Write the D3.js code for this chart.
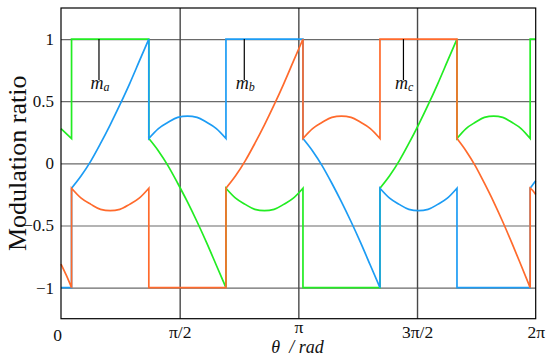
<!DOCTYPE html>
<html>
<head>
<meta charset="utf-8">
<script src="https://cdn.jsdelivr.net/npm/d3@7/dist/d3.min.js"></script>
<style>
  html, body { margin: 0; padding: 0; background: #fff; }
  svg { display: block; }
  text { font-family: "Liberation Serif", serif; fill: #111; }
</style>
</head>
<body>
<svg id="chart" width="550" height="359"></svg>
<script>
// ---- data (theta in degrees, 0..360 = 0..2π) ----
const theta = [0, 4.0, 8.0,
  8.0, 15.3, 22.7, 30.0, 37.3, 44.6, 52.0, 59.3, 66.6,
  66.6, 73.9, 81.2, 88.5, 95.9, 103.2, 110.5, 117.8, 125.1,
  125.1, 132.4, 139.7, 147.0, 154.3, 161.6, 168.9, 176.2, 183.5,
  183.5, 190.8, 198.1, 205.4, 212.7, 220.0, 227.3, 234.6, 241.9,
  241.9, 249.2, 256.5, 263.8, 271.1, 278.4, 285.7, 293.0, 300.3,
  300.3, 307.2, 314.2, 321.1, 328.1, 335.0, 341.9, 348.9, 355.8,
  355.8, 357.9, 360];

const mA = [0.28, 0.24, 0.2,
  1, 1, 1, 1, 1, 1, 1, 1, 1,
  0.2, 0.1, -0.02, -0.16, -0.31, -0.47, -0.64, -0.82, -1,
  -0.2, -0.28, -0.33, -0.37, -0.38, -0.37, -0.33, -0.28, -0.2,
  -1, -1, -1, -1, -1, -1, -1, -1, -1,
  -0.2, -0.1, 0.02, 0.16, 0.31, 0.47, 0.64, 0.82, 1,
  0.2, 0.28, 0.33, 0.37, 0.38, 0.37, 0.33, 0.28, 0.2,
  1, 1, 1];

const mB = [-1, -1, -1,
  -0.2, -0.1, 0.02, 0.16, 0.31, 0.47, 0.64, 0.82, 1,
  0.2, 0.28, 0.33, 0.37, 0.38, 0.37, 0.33, 0.28, 0.2,
  1, 1, 1, 1, 1, 1, 1, 1, 1,
  0.2, 0.1, -0.02, -0.16, -0.31, -0.47, -0.64, -0.82, -1,
  -0.2, -0.28, -0.33, -0.37, -0.38, -0.37, -0.33, -0.28, -0.2,
  -1, -1, -1, -1, -1, -1, -1, -1, -1,
  -0.2, -0.17, -0.14];

const mC = [-0.81, -0.9, -1,
  -0.2, -0.28, -0.33, -0.37, -0.38, -0.37, -0.33, -0.28, -0.2,
  -1, -1, -1, -1, -1, -1, -1, -1, -1,
  -0.2, -0.1, 0.02, 0.16, 0.31, 0.47, 0.64, 0.82, 1,
  0.2, 0.28, 0.33, 0.37, 0.38, 0.37, 0.33, 0.28, 0.2,
  1, 1, 1, 1, 1, 1, 1, 1, 1,
  0.2, 0.1, -0.02, -0.16, -0.31, -0.47, -0.64, -0.82, -1,
  -0.2, -0.22, -0.25];

const xTicks = [0, 90, 180, 270, 360];
const xTickLabels = ["0", "π/2", "π", "3π/2", "2π"];
const yTicks = [-1, -0.5, 0, 0.5, 1];
const yTickLabels = ["−1", "−0.5", "0", "0.5", "1"];

const annTheta = [28.8, 139.0, 259.7];
const annValue = [0.67, 0.67, 0.67];
const annSub = ["a", "b", "c"];

// ---- layout ----
const svg = d3.select("#chart");
const margin = {left: 61, top: 8, right: 14.3, bottom: 40.3};
const W = 550, H = 359;
const w = W - margin.left - margin.right;
const h = H - margin.top - margin.bottom;
const FONT = "'Liberation Serif', serif";

const x = d3.scaleLinear().domain([0, 360]).range([margin.left, margin.left + w]);
const y = d3.scaleLinear().domain([-1.25, 1.25]).range([margin.top + h, margin.top]);

// horizontal grid
svg.append("g")
  .attr("transform", `translate(${margin.left},0)`)
  .call(d3.axisLeft(y).tickValues(yTicks).tickSize(-w).tickFormat(""))
  .call(g => g.select(".domain").remove())
  .call(g => g.selectAll("line").attr("stroke", "#6a6a6a").attr("stroke-width", 1.2));

// vertical grid
svg.append("g")
  .attr("transform", `translate(0,${margin.top + h})`)
  .call(d3.axisBottom(x).tickValues([90, 180, 270]).tickSize(-h).tickFormat(""))
  .call(g => g.select(".domain").remove())
  .call(g => g.selectAll("line").attr("stroke", "#484848").attr("stroke-width", 1.4));

// series
const colors = {a: "#22ec22", b: "#1c9cf4", c: "#ff6a2c"};
const line = d3.line().x(d => x(d.t)).y(d => y(d.v)).curve(d3.curveMonotoneX);

function buildPath(vals) {
  const pts = theta.map((t, i) => ({t, v: vals[i]}));
  const pieces = [];
  let cur = [pts[0]];
  for (let i = 1; i < pts.length; i++) {
    if (pts[i].t === pts[i - 1].t) { pieces.push(cur); cur = [pts[i]]; }
    else cur.push(pts[i]);
  }
  pieces.push(cur);
  return pieces.map((p, i) => {
    const d = line(p);
    return i === 0 ? d : "L" + d.slice(1);
  }).join("");
}

const seriesOrder = [["a", mA], ["b", mB], ["c", mC]];
svg.append("g").selectAll("path")
  .data(seriesOrder)
  .join("path")
  .attr("d", d => buildPath(d[1]))
  .attr("fill", "none")
  .attr("stroke", d => colors[d[0]])
  .attr("stroke-width", 1.7)
  .attr("stroke-linejoin", "miter");

// frame
svg.append("rect")
  .attr("x", margin.left).attr("y", margin.top)
  .attr("width", w).attr("height", h)
  .attr("fill", "none").attr("stroke", "#000").attr("stroke-width", 1.2);

// y tick labels
svg.append("g")
  .attr("transform", `translate(${margin.left},0)`)
  .call(d3.axisLeft(y).tickValues(yTicks).tickSize(0).tickPadding(7)
        .tickFormat((d, i) => yTickLabels[i]))
  .call(g => g.select(".domain").remove())
  .call(g => g.selectAll("text")
        .style("font-family", FONT)
        .style("font-size", "17px").attr("fill", "#111"));

// x tick labels
const xLabelBase = [341.5, 338, 333, 338, 338];
const xLabelDx = [-4, 0, 0, 0, 0];
svg.append("g")
  .attr("transform", `translate(0,${margin.top + h})`)
  .call(d3.axisBottom(x).tickValues(xTicks).tickSize(0)
        .tickFormat((d, i) => xTickLabels[i]))
  .call(g => g.select(".domain").remove())
  .call(g => g.selectAll("text")
        .style("font-family", FONT)
        .style("font-size", "17.5px").attr("fill", "#111")
        .attr("dy", null)
        .attr("y", (d, i) => xLabelBase[i] - (margin.top + h))
        .attr("dx", (d, i) => xLabelDx[i]));

// axis titles
svg.append("text")
  .attr("transform", `translate(26,${margin.top + h / 2}) rotate(-90)`)
  .attr("text-anchor", "middle")
  .style("font-family", FONT)
  .style("font-size", "26px")
  .text("Modulation ratio");

svg.append("text")
  .attr("x", 297.5).attr("y", 353)
  .attr("text-anchor", "middle")
  .style("font-family", FONT)
  .style("font-size", "18px")
  .style("font-style", "italic")
  .style("white-space", "pre")
  .text("θ  / rad");

// annotations
annTheta.forEach((t, i) => {
  svg.append("line")
    .attr("x1", x(t)).attr("x2", x(t))
    .attr("y1", y(1)).attr("y2", y(annValue[i]))
    .attr("stroke", "#000").attr("stroke-width", 1.2);
  const tx = svg.append("text")
    .attr("x", x(t) - 8.5).attr("y", 89.3)
    .style("font-family", FONT)
    .style("font-style", "italic").style("font-size", "18px");
  tx.append("tspan").text("m");
  tx.append("tspan").style("font-size", "12px").attr("dy", 1.5).text(annSub[i]);
});
</script>
</body>
</html>
